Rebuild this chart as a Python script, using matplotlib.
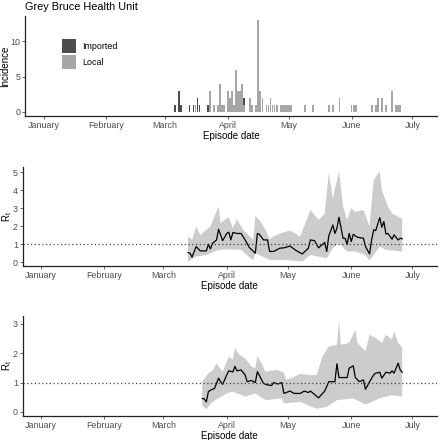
import matplotlib

matplotlib.use('Agg')
import matplotlib.pyplot as plt
from matplotlib.patches import Patch
import numpy as np
import pandas as pd

plt.rcParams['font.family'] = ['Liberation Sans', 'DejaVu Sans']

START = pd.Timestamp('2020-01-01')

# incidence (day offset from Jan 1 2020)
imp_days = [65, 67, 68, 72, 74, 76, 77, 81, 99]
imp_counts = [1, 3, 1, 1, 1, 2, 1, 1, 1]
loc_days = [75, 82, 84, 86, 87, 88, 89, 91, 92, 93, 94, 95, 96, 97, 98, 99,
            102, 103, 105, 106, 107, 108, 110, 111, 112, 113, 114, 115,
            117, 118, 119, 120, 121, 122, 129, 133, 141, 143, 146,
            152, 153, 154, 162, 164, 165, 167, 169, 172, 174, 175, 176]
loc_counts = [1, 3, 1, 1, 4, 1, 1, 3, 2, 3, 1, 6, 3, 3, 4, 1,
              2, 1, 1, 13, 3, 2, 1, 1, 2, 1, 1, 1,
              1, 1, 1, 1, 1, 1, 1, 1, 1, 1, 2,
              1, 1, 1, 1, 1, 2, 2, 1, 3, 1, 1, 1]

# Rt, first estimate
r1_days = [72, 73, 74, 76, 78, 81, 82, 83, 84, 86, 87, 89, 91, 92, 93, 94, 96, 98,
           100, 102, 105, 106, 107, 109, 111, 112, 114, 117, 119, 122, 125, 128,
           131, 132, 134, 136, 139, 140, 141, 143, 144, 145, 146, 148, 149, 150,
           151, 152, 153, 155, 158, 159, 161, 162, 163, 164, 166, 167, 168, 169,
           170, 172, 173, 175, 176, 177]
r1_mean = [0.54, 0.5, 0.28, 0.87, 0.63, 0.63, 1.0, 0.74, 1.05, 1.24, 1.83, 1.2, 1.6,
           1.67, 1.24, 1.65, 1.6, 1.6, 1.24, 0.83, 0.5, 1.6, 1.55, 1.24, 1.24, 0.6,
           0.6, 0.78, 0.8, 0.9, 0.65, 0.46, 0.78, 1.24, 1.2, 0.8, 1.1, 0.6, 1.46,
           2.07, 1.6, 1.89, 2.5, 1.33, 1.33, 1.0, 1.6, 1.15, 1.55, 1.39, 1.33, 0.87,
           0.46, 1.24, 1.8, 1.76, 2.48, 1.94, 2.26, 1.57, 1.6, 1.28, 1.52, 1.24,
           1.33, 1.31]
r1_up_days = [72, 74, 76, 78, 81, 83, 87, 88, 91, 92, 94, 96, 99, 104, 105, 107, 110,
              112, 114, 117, 122, 127, 132, 136, 139, 141, 143, 146, 148, 150, 152,
              154, 158, 161, 163, 166, 167, 170, 172, 174, 176, 177]
r1_up = [1.43, 1.24, 2.0, 1.5, 1.8, 2.0, 3.1, 2.17, 2.45, 2.5, 1.9, 2.4, 1.8, 1.24,
         2.57, 2.35, 1.8, 1.28, 1.43, 1.6, 1.76, 1.43, 2.9, 2.35, 2.7, 4.95, 3.56,
         5.05, 3.1, 2.35, 3.0, 2.8, 2.9, 2.0, 4.57, 5.04, 4.0, 3.1, 2.7, 2.6, 2.45,
         2.45]
r1_lo_days = [72, 76, 81, 87, 91, 98, 104, 105, 112, 120, 128, 132, 140, 143, 146,
              150, 154, 159, 161, 166, 169, 177]
r1_lo = [0.04, 0.31, 0.4, 0.69, 0.72, 0.69, 0.1, 0.5, 0.13, 0.13, 0.04, 0.4, 0.22,
         0.78, 1.05, 0.6, 0.6, 0.4, 0.1, 0.87, 0.69, 0.6]

# Rt, second estimate
r2_days = [79, 80, 81, 82, 83, 85, 87, 88, 89, 91, 92, 94, 95, 96, 98, 100, 101, 103,
           105, 106, 107, 109, 111, 113, 114, 116, 118, 119, 122, 124, 127, 129, 131,
           132, 136, 139, 141, 144, 145, 146, 150, 151, 153, 154, 156, 158, 159, 161,
           163, 164, 166, 167, 169, 171, 172, 173, 175, 176, 177]
r2_mean = [0.46, 0.44, 0.34, 0.69, 0.74, 0.8, 1.15, 1.03, 0.94, 1.26, 1.4, 1.36, 1.55,
           1.4, 1.43, 1.26, 1.03, 1.07, 1.0, 1.37, 1.24, 0.97, 0.92, 0.9, 1.0, 0.95,
           1.0, 0.63, 0.71, 0.63, 0.63, 0.71, 0.66, 0.71, 0.48, 0.71, 1.03, 1.03,
           1.64, 1.17, 1.17, 1.49, 1.57, 1.17, 1.03, 1.09, 0.77, 1.03, 1.26, 1.32,
           1.35, 1.15, 1.35, 1.32, 1.4, 1.32, 1.66, 1.43, 1.35]
r2_up_days = [79, 82, 84, 86, 87, 89, 92, 94, 95, 97, 100, 103, 105, 106, 108, 110,
              115, 119, 120, 123, 127, 132, 135, 138, 141, 145, 146, 147, 151, 154,
              155, 159, 161, 164, 167, 169, 172, 173, 175, 177]
r2_up = [1.03, 1.32, 1.4, 1.66, 1.55, 1.37, 1.89, 1.78, 2.18, 1.95, 1.83, 1.55, 1.49,
         1.89, 1.66, 1.37, 1.43, 1.35, 1.1, 1.15, 1.3, 1.25, 1.25, 1.9, 2.23, 2.29,
         3.12, 2.29, 2.35, 2.8, 2.35, 2.06, 2.63, 2.52, 2.35, 2.63, 2.46, 2.75, 2.35,
         2.2]
r2_lo_days = [79, 81, 84, 91, 94, 100, 105, 110, 118, 119, 127, 135, 140, 145, 153,
              159, 166, 172, 177]
r2_lo = [0.23, 0.09, 0.34, 0.63, 0.69, 0.52, 0.63, 0.4, 0.46, 0.29, 0.34, 0.11, 0.17,
         0.4, 0.46, 0.25, 0.46, 0.57, 0.52]

months = ['January', 'February', 'March', 'April', 'May', 'June', 'July']


def to_dates(days):
    return START + pd.to_timedelta(np.array(days), unit='D')


def style_axis(ax, ylabel, ylab_x):
    ax.set_xlim(pd.Timestamp('2019-12-23'), pd.Timestamp('2020-07-13'))
    ticks = pd.date_range('2020-01-01', periods=7, freq='MS')
    ax.set_xticks(ticks)
    ax.set_xticklabels(months)
    for s in ['top', 'right']:
        ax.spines[s].set_visible(False)
    for s in ['left', 'bottom']:
        ax.spines[s].set_linewidth(0.9)
        ax.spines[s].set_color('#222222')
    ax.tick_params(labelsize=6.4, colors='#4d4d4d', length=2, width=0.6, pad=1.5)
    ax.set_xlabel('Episode date', fontsize=7.0, labelpad=1)
    ax.set_ylabel(ylabel, fontsize=7.0)
    ax.yaxis.set_label_coords(ylab_x, 0.5)


fig = plt.figure(figsize=(4.4, 4.4), dpi=100)

# incidence panel
ax1 = fig.add_axes([0.0575, 0.736, 0.935, 0.228])
ax1.bar(to_dates(loc_days), loc_counts, width=0.9, color='#a6a6a6', linewidth=0)
loc_lookup = dict(zip(loc_days, loc_counts))
imp_bottom = [loc_lookup.get(d, 0) for d in imp_days]
ax1.bar(to_dates(imp_days), imp_counts, bottom=imp_bottom, width=0.9,
        color='#4d4d4d', linewidth=0)
ax1.set_ylim(-0.65, 13.65)
ax1.set_yticks([0, 5, 10])
style_axis(ax1, 'Incidence', -0.037)
ax1.legend(handles=[Patch(facecolor='#4d4d4d', edgecolor='none', label='Imported'),
                    Patch(facecolor='#a6a6a6', edgecolor='none', label='Local')],
           loc='upper left', bbox_to_anchor=(0.09, 0.77), frameon=False,
           fontsize=6.4, handlelength=1.55, handleheight=2.05, handletextpad=0.65,
           labelspacing=0.2, borderaxespad=0, borderpad=0)
fig.text(0.0575, 0.995, 'Grey Bruce Health Unit', fontsize=7.8, va='top', ha='left')


def rt_panel(rect, days, mean, up_days, up, lo_days, lo, ylim, yticks):
    ax = fig.add_axes(rect)
    px = np.concatenate([to_dates(up_days), to_dates(lo_days)[::-1]])
    py = np.concatenate([up, lo[::-1]])
    ax.fill(px, py, color='#cccccc', linewidth=0)
    ax.plot(to_dates(days), mean, color='black', linewidth=0.9)
    ax.axhline(1, color='#444444', linestyle=(0, (1, 2)), linewidth=0.9)
    ax.set_ylim(*ylim)
    ax.set_yticks(yticks)
    style_axis(ax, r'$\mathregular{R_t}$', -0.021)
    return ax


rt_panel([0.0516, 0.395, 0.9414, 0.225], r1_days, r1_mean, r1_up_days, r1_up,
         r1_lo_days, r1_lo, (-0.22, 5.28), [0, 1, 2, 3, 4, 5])
rt_panel([0.0516, 0.0545, 0.9414, 0.2275], r2_days, r2_mean, r2_up_days, r2_up,
         r2_lo_days, r2_lo, (-0.14, 3.27), [0, 1, 2, 3])

fig.savefig('out.png', dpi=100)
